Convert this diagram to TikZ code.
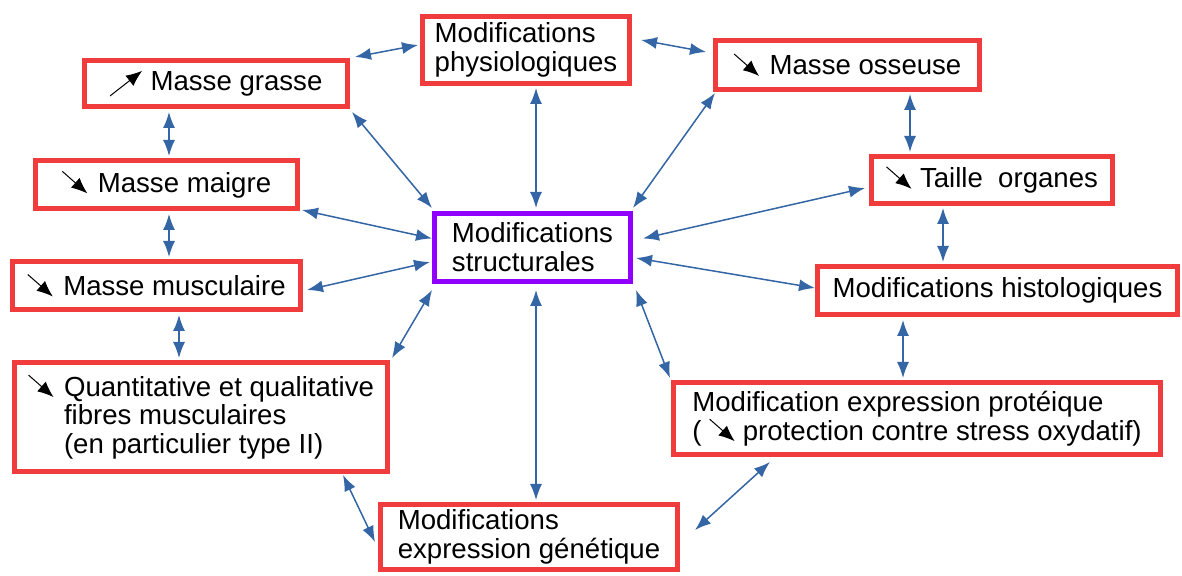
\documentclass[tikz,border=0pt]{standalone}
\usepackage{fontspec}
\setmainfont{Liberation Sans}
\usetikzlibrary{arrows.meta}
\definecolor{boxred}{HTML}{F03C3C}
\definecolor{boxpurple}{HTML}{8F00FF}
\definecolor{linkblue}{HTML}{3465A4}
\newcommand{\dnar}{\tikz[baseline=0pt,x=1pt,y=1pt]\draw[black,line width=0.5pt,-{Latex[length=8pt,width=6.5pt]}] (0,10.5)--(12.5,-0.5);}
\newcommand{\upar}{\tikz[baseline=0pt,x=1pt,y=1pt]\draw[black,line width=0.5pt,-{Latex[length=8pt,width=6.5pt]}] (0,-2.5)--(16,10);}
\tikzset{
  box/.style={draw=boxred,line width=2.5pt,fill=white,rectangle,inner sep=0pt,align=left,
    font=\fontsize{13.8}{14.4}\selectfont},
  mainbox/.style={box,draw=boxpurple},
  link/.style={draw=linkblue,line width=0.75pt,{Latex[length=8pt,width=6pt]}-{Latex[length=8pt,width=6pt]}}
}
\begin{document}
\begin{tikzpicture}[x=0.5pt,y=-0.5pt]
\useasboundingbox (0,0) rectangle (1182,576);
\node[box,minimum width=103.5pt,minimum height=33.5pt] (physio) at (526,50) {Modifications\\physiologiques};
\node[box,minimum width=131.5pt,minimum height=23pt] (grasse) at (216,83.5) {\upar\hspace{4pt}Masse grasse};
\node[box,minimum width=132pt,minimum height=24.5pt] (osseuse) at (847.5,65) {\dnar\hspace{5pt}Masse osseuse};
\node[box,minimum width=131pt,minimum height=24pt] (maigre) at (166.5,184.5) {\dnar\hspace{5pt}Masse maigre};
\node[box,minimum width=120.5pt,minimum height=23.5pt] (taille) at (992,180) {\dnar\hspace{4pt}Taille\ \ organes};
\node[mainbox,minimum width=98pt,minimum height=34pt] (struct) at (532.5,247.5) {Modifications\\structurales};
\node[box,minimum width=144pt,minimum height=24pt] (musc) at (156.5,285.5) {\dnar\hspace{5pt}Masse musculaire};
\node[box,minimum width=180pt,minimum height=24pt] (histo) at (997.5,290.5) {Modifications histologiques};
\node[box,minimum width=186.5pt,minimum height=54.5pt] (quant) at (201,417) {\dnar\hspace{5pt}Quantitative et qualitative\\\hphantom{\dnar\hspace{5pt}}fibres musculaires\\\hphantom{\dnar\hspace{5pt}}(en particulier type II)};
\node[box,minimum width=243.5pt,minimum height=36pt] (prot) at (917,418.5) {Modification expression protéique\\( \dnar\ protection contre stress oxydatif)};
\node[box,minimum width=148.5pt,minimum height=32.5pt] (gen) at (529,537) {Modifications\\expression génétique};

\draw[link] ([shift={(5,-1)}]grasse.north east) -- ([shift={(-2,-5)}]physio.west);
\draw[link] ([shift={(9,-10)}]physio.east) -- ([shift={(-7,-13)}]osseuse.west);
\draw[link] ([shift={(-47,3)}]grasse.south) -- ([shift={(2.5,-2)}]maigre.north);
\draw[link] ([shift={(2,3)}]grasse.south east) -- ([shift={(0,-3)}]struct.north west);
\draw[link] ([shift={(10,2)}]physio.south) -- ([shift={(3.5,-3)}]struct.north);
\draw[link] ([shift={(2,1)}]osseuse.south west) -- ([shift={(0,-3)}]struct.north east);
\draw[link] ([shift={(62.5,2)}]osseuse.south) -- ([shift={(-82,-2)}]taille.north);
\draw[link] ([shift={(2,-1)}]maigre.south east) -- ([shift={(0,-9)}]struct.west);
\draw[link] ([shift={(-4,8)}]taille.west) -- ([shift={(10,-9)}]struct.east);
\draw[link] ([shift={(2.5,3)}]maigre.south) -- ([shift={(12.5,-2)}]musc.north);
\draw[link] ([shift={(4,4.5)}]musc.east) -- ([shift={(-2,14.5)}]struct.west);
\draw[link] ([shift={(3,10.5)}]struct.east) -- ([shift={(0,-2.5)}]histo.west);
\draw[link] ([shift={(-49,2)}]taille.south) -- ([shift={(-54.5,-2)}]histo.north);
\draw[link] ([shift={(22.5,3)}]musc.south) -- ([shift={(-22,-2)}]quant.north);
\draw[link] ([shift={(0,6)}]struct.south west) -- ([shift={(2,-2)}]quant.north east);
\draw[link] ([shift={(3,6)}]struct.south east) -- ([shift={(-1,-2)}]prot.north west);
\draw[link] ([shift={(-94.5,3)}]histo.south) -- ([shift={(-14,-2)}]prot.north);
\draw[link] ([shift={(3.5,6)}]struct.south) -- ([shift={(7,-2)}]gen.north);
\draw[link] ([shift={(142,1)}]quant.south) -- ([shift={(-3,5)}]gen.west);
\draw[link] ([shift={(-147,5)}]prot.south) -- ([shift={(15,-7)}]gen.east);
\end{tikzpicture}
\end{document}
